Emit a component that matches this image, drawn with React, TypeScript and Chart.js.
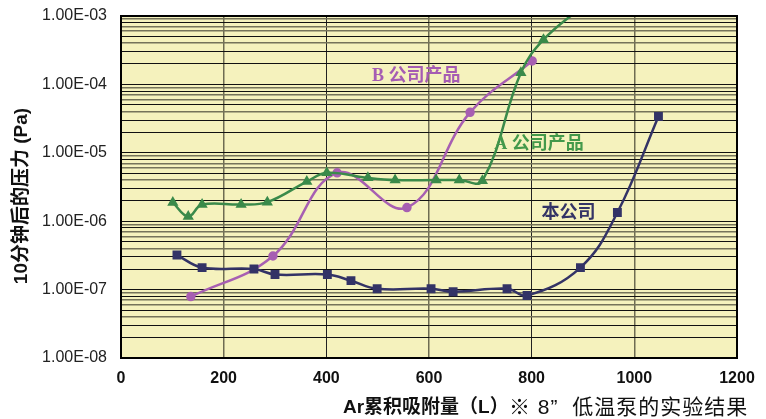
import { useEffect, useRef } from "react";
import { Chart, registerables } from "chart.js";
Chart.register(...registerables);

// 本公司
const ourX = [109, 158, 259, 300, 402, 448, 499, 604, 647, 752, 791, 895, 967, 1047];
const ourY = [3.2e-7, 2.1e-7, 2.0e-7, 1.66e-7, 1.66e-7, 1.35e-7, 1.03e-7, 1.03e-7, 0.93e-7, 1.03e-7, 0.82e-7, 2.1e-7, 1.34e-6, 3.4e-5];
// A公司产品
const aX = [101, 131, 158, 234, 285, 362, 401, 481, 534, 614, 659, 704, 779, 823, 900];
const aY = [1.87e-6, 1.17e-6, 1.75e-6, 1.75e-6, 1.9e-6, 3.8e-6, 5.1e-6, 4.3e-6, 4.0e-6, 4.0e-6, 4.0e-6, 3.9e-6, 1.48e-4, 4.5e-4, 1.4e-3];
// B公司产品
const bX = [136, 296, 421, 557, 680, 801];
const bY = [7.9e-8, 3.1e-7, 5.1e-6, 1.58e-6, 3.9e-5, 2.2e-4];

const xTicks = [0, 200, 400, 600, 800, 1000, 1200];
const yDecades = [-8, -7, -6, -5, -4, -3];
const ySignificands = [1, 2, 3, 4, 5, 6, 7, 8, 9];

const seriesLabels = ["本公司", "A 公司产品", "B 公司产品"];
// label anchors in data space
const labelX = [819, 727, 489];
const labelY = [1.29e-6, 1.32e-5, 1.3e-4];

const xTitle = "Ar累积吸附量（L）";
const note = "※ 8”  低温泵的实验结果";
const yTitle = "10分钟后的压力 (Pa)";

const NAVY = "#333366";
const GREEN = "#3a8a4a";
const PURPLE = "#a75fb2";
const labelColors = [NAVY, "#43994b", "#a55cb3"];

function sig(v: number) {
  const e = Math.floor(Math.log10(v) + 1e-9);
  return Math.round(v / Math.pow(10, e));
}
function fmtExp(v: number) {
  const e = Math.round(Math.log10(v));
  const sign = e < 0 ? "-" : "+";
  return `1.00E${sign}${String(Math.abs(e)).padStart(2, "0")}`;
}
const grayMinor = [4, 6, 7, 9];

export default function App() {
  const ref = useRef<HTMLCanvasElement | null>(null);
  useEffect(() => {
    document.body.style.margin = "0";
    if (!ref.current) return;
    const pts = (xs: number[], ys: number[]) => xs.map((x, i) => ({ x, y: ys[i] }));
    const deco = {
      id: "deco",
      beforeDraw(chart: any) {
        const { ctx, chartArea: a } = chart;
        ctx.save();
        ctx.fillStyle = "#f5f2bd";
        ctx.fillRect(a.left, a.top, a.right - a.left, a.bottom - a.top);
        ctx.restore();
      },
      afterDraw(chart: any) {
        const { ctx, chartArea: a, scales } = chart;
        ctx.save();
        ctx.strokeStyle = "#000";
        ctx.lineWidth = 2;
        ctx.strokeRect(a.left, a.top, a.right - a.left, a.bottom - a.top);
        // series labels
        ctx.textBaseline = "middle";
        ctx.textAlign = "left";
        ctx.font = 'bold 18px "Liberation Serif", "Noto Sans CJK SC", sans-serif';
        seriesLabels.forEach((t, i) => {
          ctx.fillStyle = labelColors[i];
          ctx.fillText(t, scales.x.getPixelForValue(labelX[i]), scales.y.getPixelForValue(labelY[i]));
        });
        // x title and note
        ctx.fillStyle = "#111";
        ctx.font = 'bold 19px "Liberation Sans", "Noto Sans CJK SC", sans-serif';
        ctx.textAlign = "left";
        ctx.fillText(xTitle, 343, 408);
        ctx.font = '21px "Liberation Sans", "Noto Sans CJK SC", sans-serif';
        (ctx as any).letterSpacing = "1px";
        ctx.fillText(note, 509, 408);
        (ctx as any).letterSpacing = "0px";
        // y title
        ctx.save();
        ctx.translate(22, 196);
        ctx.rotate(-Math.PI / 2);
        ctx.textAlign = "center";
        ctx.font = 'bold 19px "Liberation Sans", "Noto Sans CJK SC", sans-serif';
        ctx.fillText(yTitle, 0, 0);
        ctx.restore();
        ctx.restore();
      },
    };
    const chart = new Chart(ref.current, {
      type: "line",
      data: {
        datasets: [
          {
            label: seriesLabels[0],
            data: pts(ourX, ourY),
            borderColor: NAVY,
            backgroundColor: NAVY,
            borderWidth: 2.5,
            pointStyle: "rect",
            pointRadius: 4.5,
            tension: 0.4,
          },
          {
            label: seriesLabels[1],
            data: pts(aX, aY),
            borderColor: GREEN,
            backgroundColor: GREEN,
            borderWidth: 2.5,
            pointStyle: "triangle",
            pointRadius: 4,
            tension: 0.4,
          },
          {
            label: seriesLabels[2],
            data: pts(bX, bY),
            borderColor: PURPLE,
            backgroundColor: PURPLE,
            borderWidth: 2.5,
            pointStyle: "circle",
            pointRadius: 3.5,
            tension: 0.4,
          },
        ],
      },
      options: {
        animation: false,
        responsive: true,
        maintainAspectRatio: false,
        layout: { padding: { left: 0, right: 29, top: 16, bottom: 0 } },
        plugins: { legend: { display: false }, tooltip: { enabled: false } },
        scales: {
          x: {
            type: "linear",
            min: 0,
            max: 1200,
            afterBuildTicks: (s: any) => {
              s.ticks = xTicks.map((v) => ({ value: v }));
            },
            afterFit: (s: any) => {
              s.height = 61;
            },
            ticks: {
              autoSkip: false,
              padding: 11,
              color: "#111",
              maxRotation: 0,
              font: { family: '"Liberation Sans", Arial, sans-serif', size: 16, weight: "bold" },
              callback: (v: any) => String(v),
            },
            grid: {
              drawTicks: false,
              color: (c: any) => (c.tick && (c.tick.value / 200) % 2 === 0 ? "#222" : "#6e6c52"),
              lineWidth: (c: any) => (c.tick && (c.tick.value / 200) % 2 === 0 ? 1 : 1.5),
            },
            border: { color: "#000", width: 2 },
          },
          y: {
            type: "logarithmic",
            min: 1e-8,
            max: 1e-3,
            afterBuildTicks: (s: any) => {
              const t: any[] = [];
              yDecades.forEach((e) => {
                ySignificands.forEach((m) => {
                  const v = Number((m * Math.pow(10, e)).toPrecision(3));
                  if (v <= 1e-3 + 1e-12) t.push({ value: v, major: m === 1 });
                });
              });
              s.ticks = t;
            },
            afterFit: (s: any) => {
              s.width = 121;
              s.paddingTop = 0;
              s.paddingBottom = 0;
            },
            ticks: {
              autoSkip: false,
              padding: 14,
              color: "#222",
              font: { family: '"Liberation Sans", Arial, sans-serif', size: 16 },
              callback: (v: any) => (sig(Number(v)) === 1 ? fmtExp(Number(v)) : ""),
            },
            grid: {
              drawTicks: false,
              color: (c: any) => {
                if (!c.tick) return "#000";
                const s = sig(c.tick.value);
                return grayMinor.includes(s) ? "#75735a" : "#111";
              },
              lineWidth: (c: any) => {
                if (!c.tick) return 1;
                const s = sig(c.tick.value);
                return grayMinor.includes(s) ? 1.6 : 1;
              },
            },
            border: { color: "#000", width: 2 },
          },
        },
      },
      plugins: [deco],
    } as any);
    return () => chart.destroy();
  }, []);
  return (
    <div style={{ width: 766, height: 419, position: "relative" }}>
      <canvas ref={ref} />
    </div>
  );
}
